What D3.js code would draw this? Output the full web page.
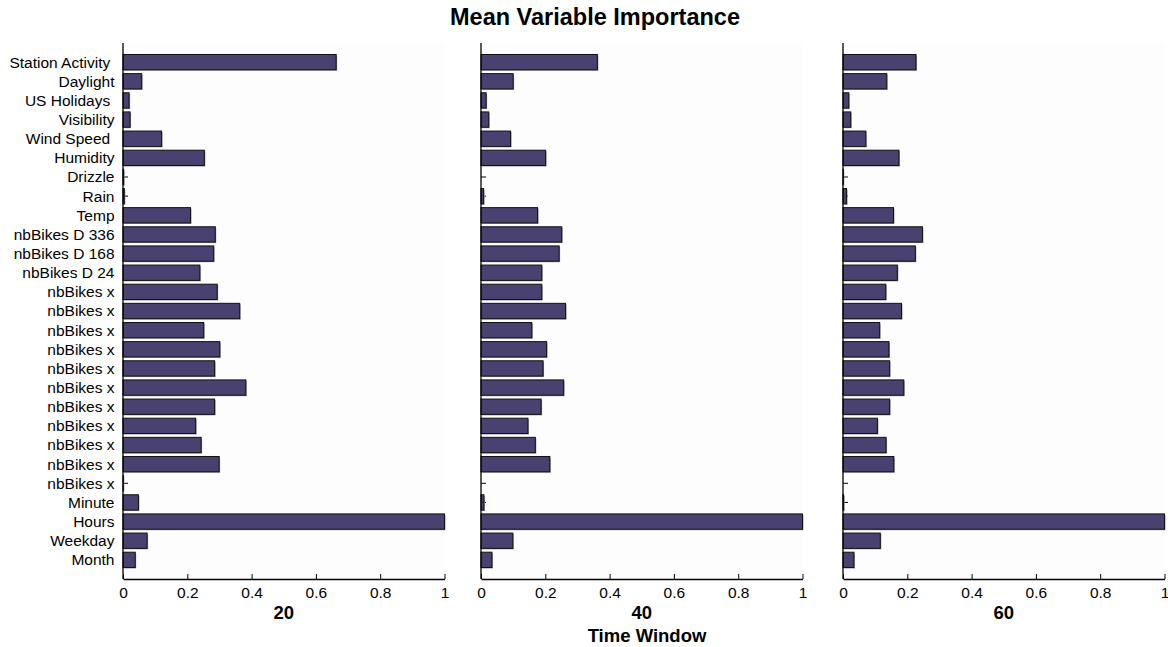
<!DOCTYPE html>
<html>
<head>
<meta charset="utf-8">
<script src="https://cdn.jsdelivr.net/npm/d3@7"></script>
<style>
  html, body { margin: 0; padding: 0; background: #ffffff; }
  svg { display: block; font-family: "Liberation Sans", Arial, Helvetica, sans-serif; }
</style>
</head>
<body>
<svg id="chart" width="1168" height="647"></svg>
<script>
// Features, listed top to bottom
const features = [
  "Station Activity ", "Daylight", "US Holidays ", "Visibility", "Wind Speed ",
  "Humidity", "Drizzle", "Rain", "Temp", "nbBikes D 336", "nbBikes D 168",
  "nbBikes D 24", "nbBikes x", "nbBikes x", "nbBikes x", "nbBikes x",
  "nbBikes x", "nbBikes x", "nbBikes x", "nbBikes x", "nbBikes x",
  "nbBikes x", "nbBikes x", "Minute", "Hours", "Weekday", "Month"
];

// Time windows shown as panels
const windows = ["20", "40", "60"];

// Mean importance per feature, one array per time window
const imp20 = [0.663, 0.058, 0.019, 0.022, 0.120, 0.253, 0.002, 0.004, 0.210,
  0.287, 0.282, 0.239, 0.293, 0.363, 0.251, 0.301, 0.285, 0.382, 0.285,
  0.226, 0.243, 0.299, 0.001, 0.048, 1.000, 0.075, 0.038];
const imp40 = [0.362, 0.100, 0.016, 0.024, 0.092, 0.201, 0.000, 0.008, 0.176,
  0.251, 0.243, 0.189, 0.189, 0.263, 0.158, 0.204, 0.193, 0.257, 0.187,
  0.146, 0.169, 0.214, 0.000, 0.009, 1.000, 0.099, 0.034];
const imp60 = [0.227, 0.136, 0.018, 0.024, 0.071, 0.174, 0.001, 0.011, 0.157,
  0.247, 0.225, 0.169, 0.133, 0.182, 0.114, 0.143, 0.145, 0.189, 0.145,
  0.107, 0.134, 0.158, 0.000, 0.002, 1.000, 0.116, 0.034];

const xTicks = [0, 0.2, 0.4, 0.6, 0.8, 1];
const xTickLabels = ["0", "0.2", "0.4", "0.6", "0.8", "1"];

const series = [imp20, imp40, imp60];
const n = features.length;

const svg = d3.select("#chart");

const plotTop = 43, plotBottom = 579;
const panelLeft = [123, 481, 843];
const panelWidth = 321.5;

// Slot positions: first feature at n, last at 1, axis spans 0..n+1
const y = d3.scaleLinear().domain([0, n + 1]).range([plotBottom, plotTop]);
const slot = (plotBottom - plotTop) / (n + 1);
const barH = slot * 0.8;

const barFill = "#49416f";

series.forEach((vals, p) => {
  const x = d3.scaleLinear().domain([0, 1]).range([panelLeft[p], panelLeft[p] + panelWidth]);
  const g = svg.append("g");

  // faint plot background
  g.append("rect")
    .attr("x", x(0)).attr("y", plotTop)
    .attr("width", panelWidth).attr("height", plotBottom - plotTop)
    .attr("fill", "#fdfdfd");

  // inward y ticks
  g.selectAll("line.ytick").data(features).enter().append("line")
    .attr("class", "ytick")
    .attr("x1", x(0)).attr("x2", x(0) + 5)
    .attr("y1", (d, i) => y(n - i)).attr("y2", (d, i) => y(n - i))
    .attr("stroke", "#000").attr("stroke-width", 1);

  // soft edge under each bar
  g.selectAll("rect.shade").data(vals).enter().append("rect")
    .attr("class", "shade")
    .attr("x", x(0) + 1)
    .attr("y", (d, i) => y(n - i) - barH / 2 + 1)
    .attr("width", d => Math.max(0, x(d) - x(0)))
    .attr("height", barH)
    .attr("fill", "#9a9a9a");

  // bars
  g.selectAll("rect.bar").data(vals).enter().append("rect")
    .attr("class", "bar")
    .attr("x", x(0))
    .attr("y", (d, i) => y(n - i) - barH / 2)
    .attr("width", d => Math.max(0, x(d) - x(0)))
    .attr("height", barH)
    .attr("fill", barFill)
    .attr("stroke", "#111")
    .attr("stroke-width", d => (x(d) - x(0)) > 0.2 ? 1 : 0);

  // x axis
  const xAxis = d3.axisBottom(x)
    .tickValues(xTicks)
    .tickFormat((d, i) => xTickLabels[i])
    .tickSizeInner(-5)
    .tickSizeOuter(0)
    .tickPadding(8);
  const ax = g.append("g")
    .attr("transform", `translate(0,${plotBottom})`)
    .call(xAxis);
  ax.select(".domain").attr("stroke", "#000").attr("stroke-width", 1.3);
  ax.selectAll(".tick line").attr("stroke", "#000");
  ax.selectAll(".tick text")
    .attr("font-size", 15.5)
    .attr("fill", "#000")
    .attr("font-family", "Liberation Sans, Arial, sans-serif");

  // y axis line
  g.append("line")
    .attr("x1", x(0)).attr("x2", x(0))
    .attr("y1", plotTop).attr("y2", plotBottom)
    .attr("stroke", "#000").attr("stroke-width", 1.3);

  // panel label
  g.append("text")
    .attr("x", x(0.5)).attr("y", 619)
    .attr("text-anchor", "middle")
    .attr("font-size", 18.5).attr("font-weight", "bold")
    .text(windows[p]);

  // feature names on the first panel
  if (p === 0) {
    g.selectAll("text.ylab").data(features).enter().append("text")
      .attr("class", "ylab")
      .attr("x", x(0) - 8.5)
      .attr("y", (d, i) => y(n - i))
      .attr("dy", "0.35em")
      .attr("text-anchor", "end")
      .attr("font-size", 15.5)
      .style("white-space", "pre")
      .text(d => d);
  }
});

// overall titles
svg.append("text")
  .attr("x", 595).attr("y", 25)
  .attr("text-anchor", "middle")
  .attr("font-size", 23.5).attr("font-weight", "bold")
  .text("Mean Variable Importance");

svg.append("text")
  .attr("x", 647).attr("y", 642)
  .attr("text-anchor", "middle")
  .attr("font-size", 18.5).attr("font-weight", "bold")
  .text("Time Window");
</script>
</body>
</html>
